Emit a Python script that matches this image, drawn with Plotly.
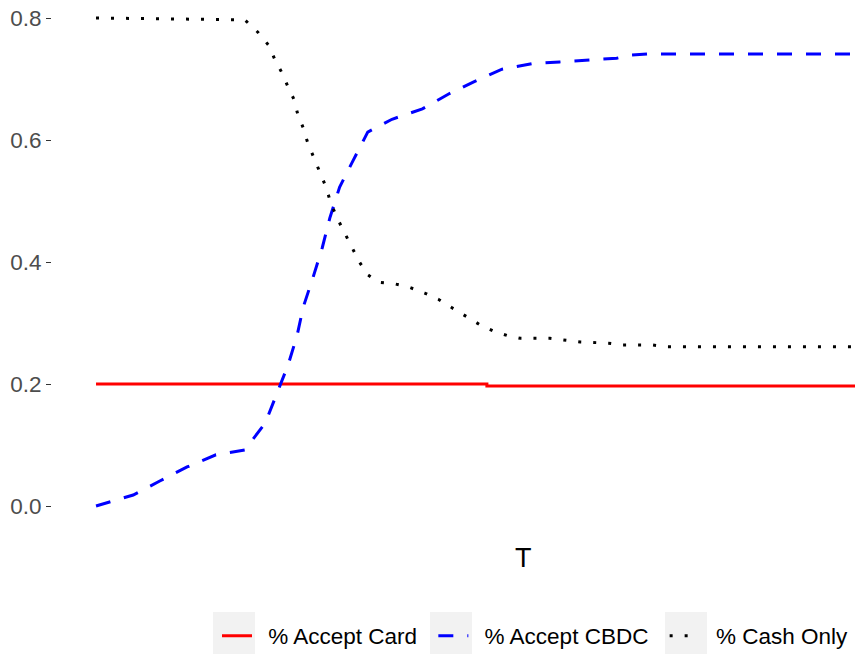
import plotly.graph_objects as go

# ---- data ----
t_card = [0, 51.5, 100]
card = [0.200, 0.1967, 0.1967]

t_cbdc = [0, 4.9, 8.4, 12.0, 15.8, 19.6, 22.3, 23.8, 25.3, 26.5, 27.3, 28.6, 29.8,
          30.8, 32.1, 33.9, 35.8, 39.0, 43.0, 46.4, 49.7, 53.5, 57.4, 61.1, 64.8,
          68.6, 70.4, 72.6, 100]
cbdc = [0.000, 0.018, 0.041, 0.064, 0.084, 0.092, 0.136, 0.185, 0.231, 0.280, 0.326,
        0.375, 0.423, 0.472, 0.523, 0.567, 0.613, 0.634, 0.651, 0.675, 0.695, 0.716,
        0.725, 0.728, 0.731, 0.734, 0.739, 0.741, 0.741]

t_cash = [0, 19.6, 21.3, 22.7, 23.6, 24.5, 25.3, 26.1, 26.6, 27.3, 27.9, 28.7, 29.5,
          30.3, 30.9, 31.7, 32.7, 33.7, 34.7, 35.8, 37.2, 39.4, 41.2, 43.3, 45.1,
          46.9, 48.5, 50.6, 52.3, 54.3, 55.9, 59.8, 63.8, 67.5, 69.4, 73.3, 75.2, 100]
cash = [0.800, 0.797, 0.777, 0.756, 0.731, 0.710, 0.687, 0.666, 0.641, 0.620, 0.595,
        0.570, 0.546, 0.523, 0.498, 0.474, 0.449, 0.425, 0.400, 0.379, 0.367, 0.364,
        0.359, 0.349, 0.339, 0.325, 0.313, 0.297, 0.287, 0.279, 0.275, 0.275, 0.269,
        0.267, 0.264, 0.264, 0.261, 0.261]

y_ticks = [0.0, 0.2, 0.4, 0.6, 0.8]
names = ["% Accept Card", "% Accept CBDC", "% Cash Only"]

PRE, POST = "\u2002", "\u2002"  # visual gaps around legend labels

fig = go.Figure()
fig.add_trace(go.Scatter(x=t_card, y=card, mode="lines", name=PRE + names[0] + POST,
                         line_shape="hv", line=dict(color="#FF0000", width=3)))
fig.add_trace(go.Scatter(x=t_cbdc, y=cbdc, mode="lines", name=PRE + names[1] + POST,
                         line=dict(color="#0000FF", width=3, dash="15px,14px")))
fig.add_trace(go.Scatter(x=t_cash, y=cash, mode="lines", name=PRE + names[2],
                         line=dict(color="#000000", width=3, dash="3px,12px")))

W, H = 855, 654
L, R, T, B = 52, 0, 0, 124
pw = W - L - R
ph = H - T - B

# grey legend key backgrounds (ggplot style)
key_left_px = [213, 430, 665]
for kx in key_left_px:
    fig.add_shape(type="rect", xref="paper", yref="paper",
                  x0=(kx - L) / pw, x1=(kx + 42 - L) / pw,
                  y0=(H - B - 656) / ph, y1=(H - B - 612) / ph,
                  fillcolor="#F2F2F2", line=dict(width=0), layer="below")

fig.add_annotation(text="T", xref="paper", yref="paper",
                   x=(523 - L) / pw, y=(H - B - 558) / ph,
                   xanchor="center", yanchor="middle",
                   showarrow=False, font=dict(size=27, color="#000000",
                                              family="Liberation Sans, Arial, sans-serif"))

fig.update_layout(
    width=W, height=H,
    margin=dict(l=L, r=R, t=T, b=B, pad=0, autoexpand=False),
    paper_bgcolor="white", plot_bgcolor="white",
    font=dict(family="Liberation Sans, Arial, sans-serif", size=22, color="#000000"),
    xaxis=dict(range=[-5.8, 100], showgrid=False, zeroline=False, showticklabels=False,
               ticks="", showline=False, automargin=False),
    yaxis=dict(range=[-0.0393, 0.8295], tickvals=y_ticks, tickformat=".1f",
               showgrid=False, zeroline=False, showline=False, automargin=False,
               ticks="outside", ticklen=5, tickwidth=1, tickcolor="#333333",
               tickfont=dict(size=22.5, color="#4D4D4D")),
    showlegend=True,
    legend=dict(orientation="h", xanchor="left", yanchor="middle",
                x=(217 - L) / pw, y=(H - B - 636) / ph,
                itemwidth=30, bgcolor="rgba(0,0,0,0)", font=dict(size=22.5, color="#000000"),
                traceorder="normal"),
)

fig.write_html("out.html", config={"displayModeBar": False},
               post_script="document.body.style.margin='0';document.body.style.overflow='hidden';")
